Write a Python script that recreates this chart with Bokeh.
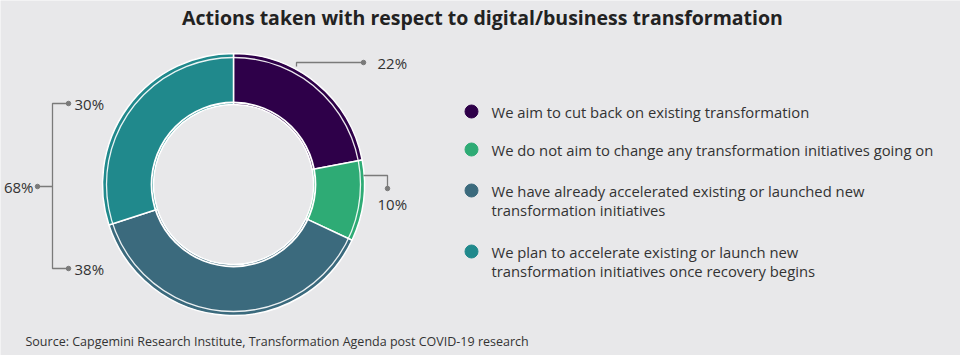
import math
from bokeh.plotting import figure
from bokeh.models import Range1d
from bokeh.core.properties import value
from bokeh.embed import file_html
from bokeh.resources import INLINE

# ---------------- data ----------------
title_text = "Actions taken with respect to digital/business transformation"
source_text = "Source: Capgemini Research Institute, Transformation Agenda post COVID-19 research"
categories = [
    "We aim to cut back on existing transformation",
    "We do not aim to change any transformation initiatives going on",
    "We have already accelerated existing or launched new\ntransformation initiatives",
    "We plan to accelerate existing or launch new\ntransformation initiatives once recovery begins",
]
values = [22, 10, 38, 30]
colors = ["#2e0049", "#2eab75", "#3b6a7d", "#20898c"]

# ---------------- layout ----------------
W, H = 960, 355
BG = "#e8e8ea"
FONT = "Open Sans"
TXT = "#333333"
LINE = "#7a7a7a"


def Y(py):
    return H - py


p = figure(width=W, height=H, output_backend="svg", toolbar_location=None,
           x_range=Range1d(0, W), y_range=Range1d(0, H), min_border=0)
p.axis.visible = False
p.grid.visible = False
p.outline_line_color = None
p.background_fill_color = BG
p.border_fill_color = BG

cx, cy = 233, Y(184)
r_out, r_in = 131, 80

total = sum(values)
starts, ends = [], []
acc = 0
for v in values:
    starts.append(math.pi / 2 - 2 * math.pi * acc / total)
    acc += v
    ends.append(math.pi / 2 - 2 * math.pi * acc / total)

p.annular_wedge(x=[cx] * len(values), y=[cy] * len(values), inner_radius=r_in, outer_radius=r_out,
                start_angle=starts, end_angle=ends, direction="clock",
                fill_color=colors, line_color="white", line_width=1.5)
# decorative white rings
p.circle(x=[cx], y=[cy], radius=r_out - 4, fill_color=None, line_color="white", line_width=1.3, line_alpha=0.9)
p.circle(x=[cx], y=[cy], radius=r_in + 2, fill_color=None, line_color="white", line_width=1.8)

LBL = "15px"
# leader for first slice (22%)
p.line(x=[296, 296, 363], y=[Y(66), Y(62), Y(62)], line_color=LINE, line_width=1.3)
p.scatter(x=[363], y=[Y(62)], size=4.5, color=LINE)
p.text(x=[377], y=[Y(62)], text=[f"{values[0]}%"], text_font=value(FONT), text_font_size=LBL,
       text_color=TXT, text_baseline="middle", text_align="left")

# leader for second slice (10%)
p.line(x=[363, 387, 387], y=[Y(175), Y(175), Y(188)], line_color=LINE, line_width=1.3)
p.scatter(x=[387], y=[Y(188)], size=4.5, color=LINE)
p.text(x=[377], y=[Y(203)], text=[f"{values[1]}%"], text_font=value(FONT), text_font_size=LBL,
       text_color=TXT, text_baseline="middle", text_align="left")

# left bracket (38% + 30%)
p.line(x=[68, 52, 52, 68], y=[Y(103), Y(103), Y(268), Y(268)], line_color=LINE, line_width=1.3)
p.line(x=[52, 37], y=[Y(186), Y(186)], line_color=LINE, line_width=1.3)
p.scatter(x=[68, 68, 37], y=[Y(103), Y(268), Y(186)], size=4.5, color=LINE)
p.text(x=[74, 74], y=[Y(103), Y(268)], text=[f"{values[3]}%", f"{values[2]}%"],
       text_font=value(FONT), text_font_size=LBL, text_color=TXT,
       text_baseline="middle", text_align="left")
p.text(x=[33], y=[Y(186)], text=[f"{values[2] + values[3]}%"], text_font=value(FONT),
       text_font_size=LBL, text_color=TXT, text_baseline="middle", text_align="right")

# legend
leg_y = [111, 149, 190, 251]
p.scatter(x=[471] * 4, y=[Y(v) for v in leg_y], size=13, color=colors)
lx, ly, lt = [], [], []
for yy, lab in zip(leg_y, categories):
    for j, line in enumerate(lab.split("\n")):
        lx.append(491)
        ly.append(Y(yy + j * 19))
        lt.append(line)
p.text(x=lx, y=ly, text=lt, text_font=value(FONT), text_font_size="14.8px", text_color=TXT,
       text_baseline="middle", text_align="left")

# title and source
p.text(x=[482], y=[Y(17)], text=[title_text], text_font=value(FONT), text_font_size="19.5px",
       text_font_style="bold", text_color="#222222", text_baseline="middle", text_align="center")
p.text(x=[25], y=[Y(341)], text=[source_text], text_font=value(FONT), text_font_size="12.5px",
       text_color=TXT, text_baseline="middle", text_align="left")

open("out.html", "w").write(file_html(p, INLINE))
